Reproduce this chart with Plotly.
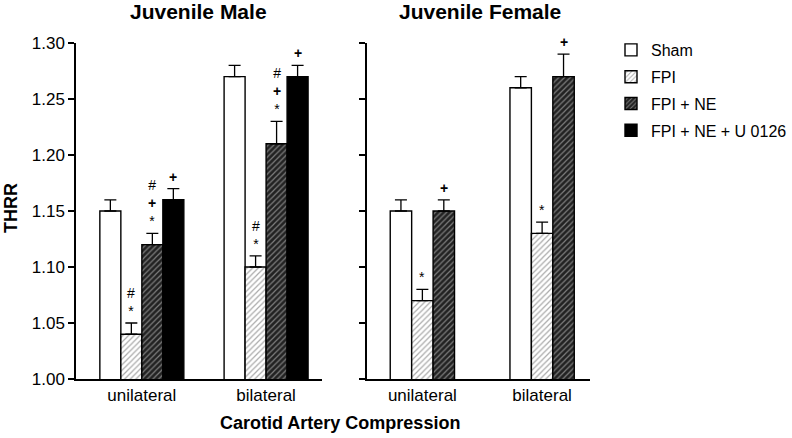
import plotly.graph_objects as go

# data
groups = ["Sham", "FPI", "FPI + NE", "FPI + NE + U 0126"]
sides = ["unilateral", "bilateral"]

male_means = {
    "Sham": [1.15, 1.27],
    "FPI": [1.04, 1.10],
    "FPI + NE": [1.12, 1.21],
    "FPI + NE + U 0126": [1.16, 1.27],
}
male_err = {
    "Sham": [0.01, 0.01],
    "FPI": [0.01, 0.01],
    "FPI + NE": [0.01, 0.02],
    "FPI + NE + U 0126": [0.01, 0.01],
}
male_marks = {
    "Sham": ["", ""],
    "FPI": ["#<br>*", "#<br>*"],
    "FPI + NE": ["#<br><b>+</b><br>*", "#<br><b>+</b><br>*"],
    "FPI + NE + U 0126": ["<b>+</b>", "<b>+</b>"],
}

female_means = {
    "Sham": [1.15, 1.26],
    "FPI": [1.07, 1.13],
    "FPI + NE": [1.15, 1.27],
}
female_err = {
    "Sham": [0.01, 0.01],
    "FPI": [0.01, 0.01],
    "FPI + NE": [0.01, 0.02],
}
female_marks = {
    "Sham": ["", ""],
    "FPI": ["*", "*"],
    "FPI + NE": ["<b>+</b>", "<b>+</b>"],
}

FONT = "Arial, Liberation Sans, sans-serif"

W, H = 792, 438


def px(x):
    return x / W


def py(y):
    return 1 - y / H


styles = {
    "Sham": dict(color="white"),
    "FPI": dict(color="white", pattern=dict(shape="/", fgcolor="#555555", bgcolor="white",
                                             size=4, solidity=0.3)),
    "FPI + NE": dict(color="#222222", pattern=dict(shape="/", fgcolor="#d8d8d8", bgcolor="#222222",
                                                   size=4, solidity=0.3)),
    "FPI + NE + U 0126": dict(color="black"),
}

fig = go.Figure()
annotations = []


def add_panel(means, errs, marks, xaxis, yaxis, width, legend):
    names = list(means.keys())
    n = len(names)
    for i, name in enumerate(names):
        off = -n * width / 2 + i * width
        fig.add_trace(go.Bar(
            x=[0, 1], y=means[name], name=name,
            width=width, offset=off,
            xaxis=xaxis, yaxis=yaxis,
            marker=dict(**styles[name], line=dict(color="black", width=1.4)),
            error_y=dict(type="data", array=errs[name], arrayminus=[0, 0], symmetric=False,
                         color="black", thickness=1.3, width=6),
            showlegend=legend, legendgroup=name,
        ))
        for k in range(2):
            if marks[name][k]:
                annotations.append(dict(
                    x=k + off + width / 2, y=means[name][k] + errs[name][k],
                    xref=xaxis, yref=yaxis, text=marks[name][k], showarrow=False,
                    yanchor="bottom", yshift=2, font=dict(size=14, color="black", family=FONT),
                ))


add_panel(male_means, male_err, male_marks, "x", "y", 0.169, True)
add_panel(female_means, female_err, female_marks, "x2", "y2", 0.179, False)

yticks = [1.0, 1.05, 1.10, 1.15, 1.20, 1.25, 1.30]
axis_common = dict(showline=True, linecolor="black", linewidth=1.5, showgrid=False, zeroline=False)

fig.update_layout(
    width=W, height=H,
    margin=dict(l=0, r=0, t=0, b=0, autoexpand=False),
    plot_bgcolor="white", paper_bgcolor="white",
    barmode="group",
    font=dict(family=FONT, color="black", size=17),
    xaxis=dict(domain=[px(76), px(322)], range=[-0.53, 1.45], tickvals=[0, 1], ticktext=sides,
               ticks="", tickfont=dict(size=17), **axis_common),
    xaxis2=dict(domain=[px(367), px(590)], range=[-0.4625, 1.40], tickvals=[0, 1], ticktext=sides,
                ticks="", tickfont=dict(size=17), anchor="y2", **axis_common),
    yaxis=dict(domain=[py(379), py(43)], range=[1.0, 1.30], tickvals=yticks,
               tickformat=".2f", ticks="outside", ticklen=6, tickwidth=1.5, tickcolor="black",
               tickfont=dict(size=17), **axis_common),
    yaxis2=dict(domain=[py(379), py(43)], range=[1.0, 1.30], anchor="x2",
                tickvals=yticks, showticklabels=False,
                ticks="outside", ticklen=6, tickwidth=1.5, tickcolor="black", **axis_common),
    legend=dict(x=px(611), y=py(33), xanchor="left", yanchor="top",
                font=dict(size=16), traceorder="grouped", tracegroupgap=3,
                itemwidth=30, bgcolor="rgba(0,0,0,0)"),
)

titles = [
    ("<b>Juvenile Male</b>", 198, 11, 21, 0),
    ("<b>Juvenile Female</b>", 480, 11, 21, 0),
    ("<b>Carotid Artery Compression</b>", 340, 423, 18, 0),
    ("<b>THRR</b>", 11, 208, 18, -90),
]
for text, x, y, size, angle in titles:
    annotations.append(dict(text=text, x=px(x), y=py(y), xref="paper", yref="paper",
                            xanchor="center", yanchor="middle", showarrow=False,
                            textangle=angle, font=dict(size=size)))
fig.update_layout(annotations=annotations)

# drop the page's default body margin so the figure sits at the window corner
fig.write_html("out.html", config={"displayModeBar": False},
               post_script="document.body.style.margin = '0';")
